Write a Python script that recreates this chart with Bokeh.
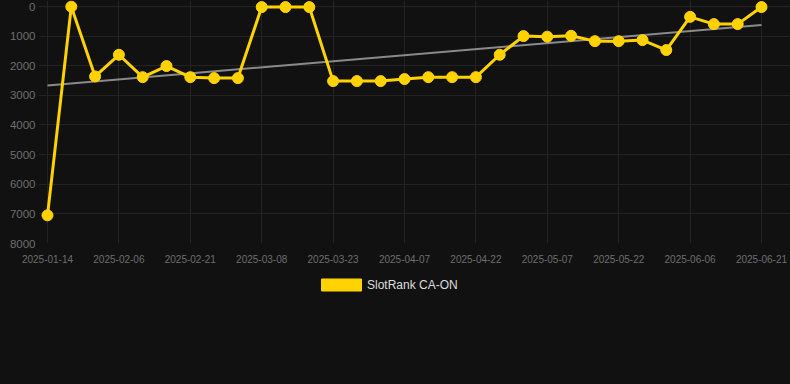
import numpy as np
from bokeh.plotting import figure
from bokeh.layouts import column
from bokeh.models import Range1d, FixedTicker, Legend, LegendItem
from bokeh.embed import file_html
from bokeh.resources import INLINE

dates = ["2025-01-14", "2025-01-27", "2025-02-01", "2025-02-06", "2025-02-11", "2025-02-16",
         "2025-02-21", "2025-02-26", "2025-03-03", "2025-03-08", "2025-03-13", "2025-03-18",
         "2025-03-23", "2025-03-28", "2025-04-02", "2025-04-07", "2025-04-12", "2025-04-17",
         "2025-04-22", "2025-04-27", "2025-05-02", "2025-05-07", "2025-05-12", "2025-05-17",
         "2025-05-22", "2025-05-27", "2025-06-01", "2025-06-06", "2025-06-11", "2025-06-16",
         "2025-06-21"]
ranks = [7050, 5, 2360, 1630, 2385, 2010, 2385, 2417, 2417, 20, 20, 20,
         2518, 2518, 2518, 2450, 2385, 2385, 2385, 1630, 1000, 1020, 990, 1170,
         1170, 1135, 1470, 350, 595, 595, 20]
y_ticks = [0, 1000, 2000, 3000, 4000, 5000, 6000, 7000, 8000]
series_name = "SlotRank CA-ON"

GOLD = "#FFD200"
BG = "#111111"
GRID = "#232323"
FONT = "Liberation Sans"

xs = list(range(len(dates)))
label_idx = list(range(0, len(dates), 3))

p = figure(width=790, height=270, output_backend="svg", toolbar_location=None,
           x_range=Range1d(-0.378, 31.218), y_range=Range1d(8000, -202),
           min_border_left=38, min_border_right=0, min_border_top=0, min_border_bottom=27,
           background_fill_color=BG, border_fill_color=BG, outline_line_color=None)

# trend line (least squares fit of the series)
k, b = np.polyfit(xs, ranks, 1)
tx = [xs[0], xs[-1]]
p.line(tx, [k * t + b for t in tx], line_color="#8a8a8a", line_width=2)

p.line(xs, ranks, line_color=GOLD, line_width=3)
p.scatter(xs, ranks, size=11, fill_color=GOLD, line_color=GOLD)

p.xaxis.ticker = FixedTicker(ticks=label_idx)
p.xaxis.major_label_overrides = {i: dates[i] for i in label_idx}
p.yaxis.ticker = FixedTicker(ticks=y_ticks)

for ax in list(p.xaxis) + list(p.yaxis):
    ax.axis_line_color = BG
    ax.axis_line_alpha = 0
    ax.major_tick_line_color = None
    ax.minor_tick_line_color = None
    ax.major_tick_out = 0
    ax.major_tick_in = 0
    ax.minor_tick_out = 0
    ax.major_label_text_font = FONT
    ax.major_label_text_color = "#6e6e6e"

p.xaxis.major_label_text_font_size = "10px"
p.xaxis.major_label_standoff = 11
p.yaxis.major_label_text_font_size = "11.5px"
p.yaxis.major_label_standoff = 3

p.xgrid.ticker = FixedTicker(ticks=label_idx)
p.ygrid.ticker = FixedTicker(ticks=y_ticks)
p.xgrid.grid_line_color = GRID
p.ygrid.grid_line_color = GRID

# legend strip below the chart
lf = figure(width=790, height=114, output_backend="svg", toolbar_location=None,
            x_range=Range1d(0, 1), y_range=Range1d(0, 1),
            x_axis_type=None, y_axis_type=None,
            min_border_left=0, min_border_right=0, min_border_top=0, min_border_bottom=0,
            background_fill_color=BG, border_fill_color=BG, outline_line_color=None)
lf.grid.visible = False
# legend proxy glyph, kept outside the visible range
swatch = lf.quad(left=[5], right=[6], top=[6], bottom=[5], fill_color=GOLD, line_color=GOLD)

legend = Legend(items=[LegendItem(label=series_name, renderers=[swatch])],
                location=(278, 92), orientation="horizontal",
                glyph_width=50, glyph_height=15, label_standoff=1,
                label_text_font=FONT, label_text_font_size="12px",
                label_text_color="#dedede", label_height=15,
                background_fill_alpha=0, border_line_alpha=0,
                padding=0, margin=0, spacing=0)
lf.add_layout(legend, "center")

layout = column(p, lf, spacing=0)

html = file_html(layout, INLINE)
html = html.replace("</head>", "<style>html, body { background: #111111; }</style></head>", 1)
open("out.html", "w").write(html)
